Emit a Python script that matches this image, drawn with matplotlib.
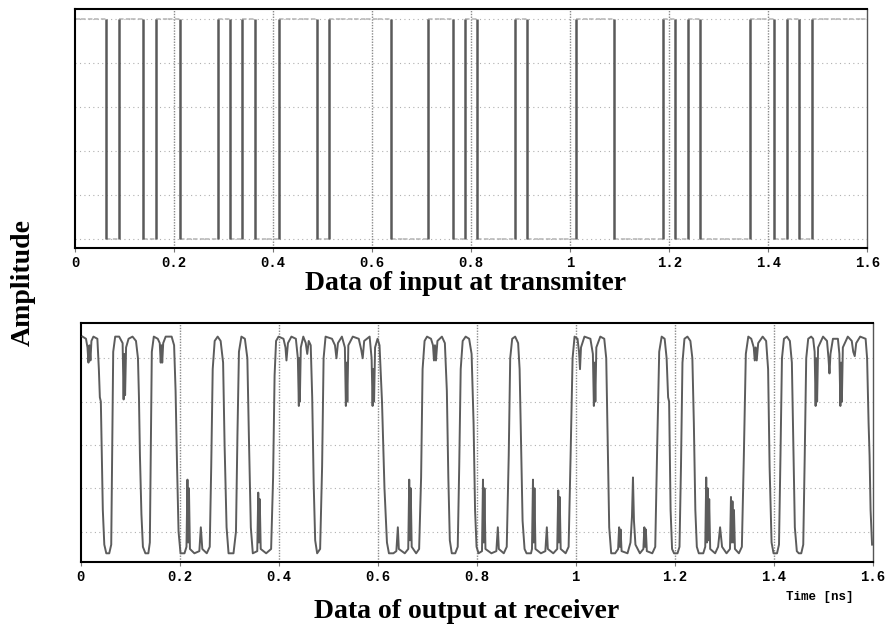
import matplotlib
matplotlib.use("Agg")
import matplotlib.pyplot as plt
import numpy as np

# transmitted bit stream, 25 ps per bit, bit i centred on i*0.025 ns
bit_period = 0.025
tx_bits = [1, 1, 1, 0, 1, 1, 0, 1, 1, 0, 0, 0, 1, 0, 1, 0, 0, 1, 1, 1,
           0, 1, 1, 1, 1, 1, 0, 0, 0, 1, 1, 0, 1, 0, 0, 0, 1, 0, 0, 0,
           0, 1, 1, 1, 0, 0, 0, 0, 1, 0, 1, 0, 0, 0, 0, 1, 1, 0, 1, 0,
           1, 1, 1, 1, 1]

# received waveform (time in ns, normalised amplitude)
rx_trace = [
    (0.004, 1.0), (0.011, 0.99), (0.014, 0.95), (0.016, 0.88), (0.018, 0.96), (0.020, 0.89),
    (0.022, 0.98), (0.026, 1.0), (0.034, 0.99), (0.037, 0.85), (0.039, 0.72), (0.041, 0.70),
    (0.043, 0.45), (0.045, 0.20), (0.048, 0.04), (0.052, 0.0), (0.058, 0.0), (0.062, 0.04),
    (0.064, 0.5), (0.066, 0.93), (0.070, 1.0),
    (0.078, 1.0), (0.085, 0.97), (0.087, 0.71), (0.0885, 0.92), (0.090, 0.73), (0.092, 0.95),
    (0.097, 0.99), (0.105, 1.0), (0.112, 0.98), (0.116, 0.9), (0.118, 0.72), (0.120, 0.45),
    (0.123, 0.18), (0.126, 0.03), (0.131, 0.0), (0.137, 0.0), (0.140, 0.05), (0.142, 0.5),
    (0.144, 0.93), (0.148, 1.0),
    (0.156, 0.99), (0.160, 0.97), (0.162, 0.88), (0.1635, 0.96), (0.165, 0.88), (0.167, 0.97),
    (0.172, 1.0), (0.184, 1.0), (0.189, 0.96), (0.192, 0.75), (0.195, 0.4), (0.198, 0.1),
    (0.202, 0.0),
    (0.210, 0.0), (0.214, 0.03), (0.216, 0.34), (0.2175, 0.05), (0.219, 0.30), (0.221, 0.02),
    (0.230, 0.0), (0.240, 0.01), (0.243, 0.12), (0.246, 0.02), (0.255, 0.0), (0.261, 0.03),
    (0.264, 0.4), (0.267, 0.85), (0.271, 0.98), (0.277, 1.0), (0.283, 0.98), (0.288, 0.88),
    (0.291, 0.5), (0.295, 0.12), (0.299, 0.0),
    (0.309, 0.0), (0.314, 0.1), (0.317, 0.55), (0.320, 0.93), (0.325, 1.0), (0.332, 0.99),
    (0.337, 0.9), (0.340, 0.55), (0.344, 0.12), (0.348, 0.0),
    (0.357, 0.01), (0.359, 0.28), (0.3605, 0.05), (0.362, 0.25), (0.364, 0.02), (0.375, 0.0),
    (0.385, 0.02), (0.389, 0.35), (0.392, 0.82), (0.395, 0.98), (0.400, 1.0),
    (0.410, 0.99), (0.414, 0.95), (0.416, 0.89), (0.419, 0.97), (0.426, 1.0), (0.435, 0.99),
    (0.439, 0.9), (0.441, 0.68), (0.442, 0.9), (0.443, 0.70), (0.445, 0.95), (0.450, 1.0),
    (0.455, 0.97), (0.458, 0.92), (0.461, 0.98), (0.465, 0.96), (0.468, 0.72), (0.471, 0.32),
    (0.474, 0.06), (0.478, 0.0), (0.484, 0.02), (0.488, 0.4), (0.491, 0.9), (0.495, 1.0),
    (0.508, 0.99), (0.514, 0.96), (0.517, 0.9), (0.520, 0.97), (0.528, 1.0), (0.534, 0.95),
    (0.536, 0.68), (0.5375, 0.88), (0.539, 0.70), (0.541, 0.96), (0.550, 1.0), (0.562, 0.99),
    (0.567, 0.94), (0.570, 0.9), (0.573, 0.98), (0.584, 1.0), (0.588, 0.9), (0.590, 0.68),
    (0.5915, 0.85), (0.593, 0.70), (0.595, 0.95), (0.600, 0.99), (0.604, 0.96), (0.609, 0.7),
    (0.614, 0.3), (0.619, 0.05), (0.623, 0.0),
    (0.632, 0.0), (0.638, 0.01), (0.641, 0.12), (0.643, 0.02), (0.655, 0.0), (0.662, 0.02),
    (0.664, 0.34), (0.6655, 0.06), (0.667, 0.3), (0.669, 0.03), (0.678, 0.0), (0.684, 0.02),
    (0.688, 0.35), (0.691, 0.85), (0.695, 0.98), (0.700, 1.0),
    (0.708, 0.99), (0.712, 0.96), (0.714, 0.89), (0.716, 0.96), (0.718, 0.89), (0.721, 0.98),
    (0.730, 1.0), (0.736, 0.97), (0.740, 0.75), (0.743, 0.35), (0.746, 0.06), (0.750, 0.0),
    (0.757, 0.0), (0.762, 0.03), (0.765, 0.4), (0.768, 0.85), (0.772, 0.98), (0.778, 1.0),
    (0.785, 0.99), (0.790, 0.92), (0.794, 0.6), (0.797, 0.2), (0.800, 0.03), (0.804, 0.0),
    (0.811, 0.01), (0.813, 0.34), (0.8145, 0.05), (0.816, 0.3), (0.818, 0.02), (0.830, 0.0),
    (0.840, 0.01), (0.843, 0.12), (0.845, 0.02), (0.855, 0.0), (0.861, 0.03), (0.865, 0.45),
    (0.868, 0.9), (0.872, 0.99), (0.878, 1.0), (0.884, 0.97), (0.887, 0.85), (0.890, 0.5),
    (0.893, 0.15), (0.897, 0.02), (0.901, 0.0),
    (0.910, 0.0), (0.912, 0.02), (0.914, 0.34), (0.9155, 0.05), (0.917, 0.3), (0.919, 0.02),
    (0.930, 0.0), (0.939, 0.01), (0.942, 0.12), (0.944, 0.02), (0.955, 0.0), (0.963, 0.02),
    (0.965, 0.29), (0.9665, 0.05), (0.968, 0.26), (0.970, 0.02), (0.980, 0.0), (0.986, 0.03),
    (0.990, 0.45), (0.994, 0.9), (0.998, 1.0),
    (1.004, 0.99), (1.007, 0.93), (1.009, 0.85), (1.011, 0.95), (1.018, 1.0), (1.030, 0.99),
    (1.035, 0.92), (1.037, 0.68), (1.0385, 0.88), (1.040, 0.70), (1.042, 0.95), (1.050, 1.0),
    (1.058, 0.99), (1.062, 0.9), (1.065, 0.5), (1.068, 0.12), (1.072, 0.0),
    (1.080, 0.0), (1.086, 0.02), (1.088, 0.12), (1.0895, 0.03), (1.091, 0.11), (1.093, 0.01),
    (1.105, 0.0), (1.111, 0.05), (1.114, 0.17), (1.116, 0.35), (1.118, 0.15), (1.121, 0.04),
    (1.130, 0.0), (1.137, 0.02), (1.139, 0.12), (1.1405, 0.03), (1.142, 0.11), (1.144, 0.01),
    (1.155, 0.0), (1.161, 0.03), (1.165, 0.5), (1.169, 0.93), (1.174, 1.0),
    (1.180, 0.99), (1.184, 0.9), (1.187, 0.72), (1.189, 0.70), (1.192, 0.2), (1.195, 0.02),
    (1.199, 0.0),
    (1.206, 0.0), (1.210, 0.03), (1.213, 0.4), (1.216, 0.88), (1.220, 0.99), (1.226, 1.0),
    (1.232, 0.98), (1.236, 0.9), (1.239, 0.6), (1.242, 0.2), (1.245, 0.03), (1.249, 0.0),
    (1.258, 0.0), (1.262, 0.03), (1.264, 0.35), (1.2655, 0.05), (1.267, 0.3), (1.2685, 0.06),
    (1.270, 0.25), (1.272, 0.02), (1.282, 0.0), (1.288, 0.03), (1.292, 0.12), (1.296, 0.03),
    (1.305, 0.0), (1.312, 0.02), (1.314, 0.26), (1.3155, 0.05), (1.317, 0.24), (1.3185, 0.05),
    (1.320, 0.2), (1.322, 0.02), (1.330, 0.0), (1.336, 0.03), (1.340, 0.45), (1.344, 0.92),
    (1.349, 1.0),
    (1.355, 0.99), (1.360, 0.95), (1.362, 0.89), (1.364, 0.95), (1.366, 0.89), (1.369, 0.97),
    (1.378, 1.0), (1.385, 0.98), (1.389, 0.85), (1.392, 0.4), (1.396, 0.05), (1.400, 0.0),
    (1.407, 0.0), (1.411, 0.04), (1.414, 0.45), (1.417, 0.9), (1.421, 0.99), (1.427, 1.0),
    (1.433, 0.98), (1.437, 0.88), (1.440, 0.5), (1.443, 0.12), (1.447, 0.01), (1.451, 0.0),
    (1.456, 0.0), (1.460, 0.04), (1.463, 0.45), (1.466, 0.9), (1.470, 0.99), (1.476, 1.0),
    (1.480, 0.99), (1.483, 0.93), (1.485, 0.68), (1.4865, 0.9), (1.488, 0.70), (1.490, 0.95),
    (1.500, 1.0), (1.508, 0.98), (1.511, 0.90), (1.513, 0.83), (1.515, 0.92), (1.520, 0.99),
    (1.530, 0.99), (1.533, 0.92), (1.535, 0.68), (1.5365, 0.88), (1.538, 0.70), (1.540, 0.95),
    (1.550, 1.0), (1.558, 0.98), (1.561, 0.93), (1.564, 0.91), (1.567, 0.97), (1.575, 1.0),
    (1.586, 0.99), (1.589, 0.9), (1.592, 0.6), (1.594, 0.45), (1.596, 0.2), (1.599, 0.04),
]

x_ticks = [0, 0.2, 0.4, 0.6, 0.8, 1.0, 1.2, 1.4, 1.6]
x_tick_labels = ["0", "0.2", "0.4", "0.6", "0.8", "1", "1.2", "1.4", "1.6"]

mono = "Liberation Mono"
serif = "Liberation Serif"

fig = plt.figure(figsize=(8.88, 6.36), dpi=100)
ax_tx = fig.add_axes([0.0848, 0.6101, 0.8919, 0.3758])
ax_rx = fig.add_axes([0.0907, 0.1164, 0.8919, 0.3758])


def style_axes(ax, ygrid):
    ax.set_xlim(0, 1.6)
    ax.set_xticks(x_ticks)
    ax.set_xticklabels(x_tick_labels, fontfamily=mono, fontweight="bold", fontsize=10)
    ax.set_yticks(ygrid)
    ax.set_yticklabels([])
    ax.tick_params(axis="y", length=0)
    ax.tick_params(axis="x", length=3, color="#777777", pad=3)
    for xv in x_ticks[1:-1]:
        ax.axvline(xv, color="#8a8a8a", lw=1.0, ls=(0, (1, 1)), zorder=1)
    for yv in ygrid:
        ax.axhline(yv, color="#b0b0b0", lw=0.8, ls=(0, (1, 3)), zorder=1)
    for side in ["left", "top", "bottom"]:
        ax.spines[side].set_color("black")
        ax.spines[side].set_linewidth(1.5)
    ax.spines["right"].set_color("#555555")
    ax.spines["right"].set_linewidth(1.0)


# transmitter: NRZ levels drawn faint, bit transitions drawn dark
bits = np.array(tx_bits)
starts = (np.arange(len(bits)) - 0.5) * bit_period
ax_tx.hlines(bits, starts, starts + bit_period, color="#b4b4b4", lw=1.1,
             linestyles=(0, (3, 1.5)), zorder=2)
change = np.nonzero(np.diff(bits))[0] + 1
ax_tx.vlines(starts[change], 0, 1, color="#5a5a5a", lw=1.8, zorder=3)
ax_tx.set_ylim(-0.041, 1.045)
style_axes(ax_tx, [0, 0.2, 0.4, 0.6, 0.8, 1.0])

# receiver trace
rx_t = [p[0] for p in rx_trace]
rx_v = [p[1] for p in rx_trace]
ax_rx.plot(rx_t, rx_v, color="#5c5c5c", lw=1.4, zorder=3)
ax_rx.set_ylim(-0.04, 1.063)
style_axes(ax_rx, [0.1, 0.3, 0.5, 0.7, 0.9])

fig.text(466 / 888, 1 - 283 / 636, "Data of input at transmiter", ha="center", va="center",
         fontfamily=serif, fontweight="bold", fontsize=20)
fig.text(467 / 888, 1 - 612 / 636, "Data of output at receiver", ha="center", va="center",
         fontfamily=serif, fontweight="bold", fontsize=20)
fig.text(23 / 888, 1 - 282 / 636, "Amplitude", ha="center", va="center", rotation=90,
         fontfamily=serif, fontweight="bold", fontsize=20)
fig.text(820 / 888, 1 - 597 / 636, "Time [ns]", ha="center", va="center",
         fontfamily=mono, fontweight="bold", fontsize=9)

fig.savefig("out.png", dpi=100)
